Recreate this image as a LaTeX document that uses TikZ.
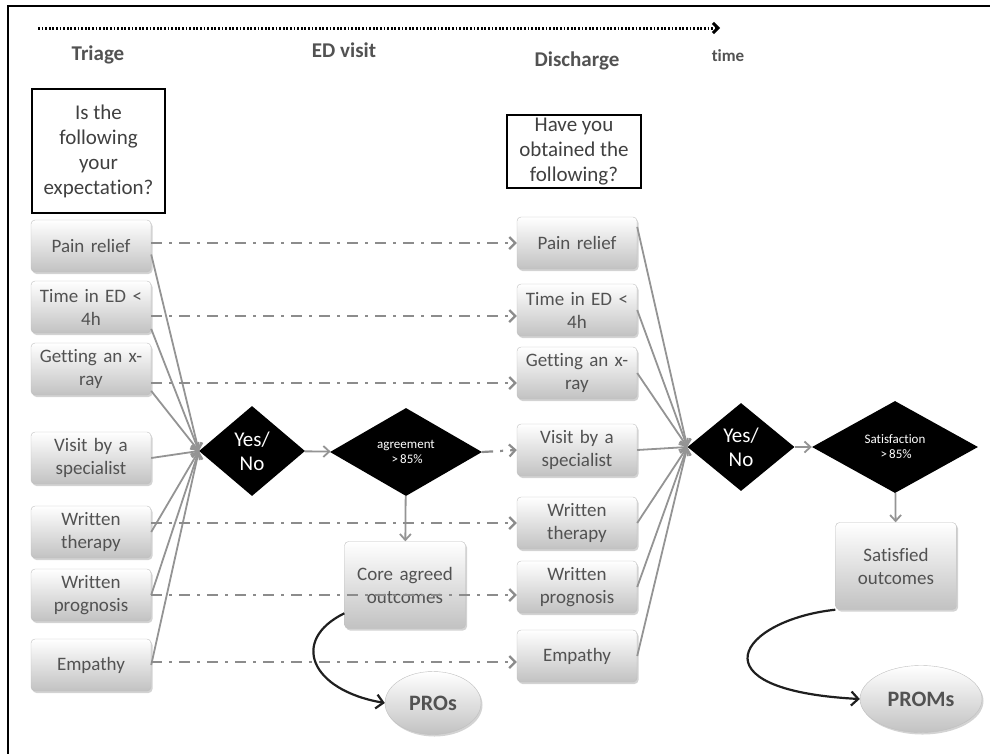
\documentclass[tikz,border=0pt]{standalone}
\usepackage{fontspec}
\setmainfont{Carlito}[Ligatures=NoCommon]
\usetikzlibrary{shapes.geometric,arrows.meta,shadows}

\begin{document}
\begin{tikzpicture}[
  x=1pt, y=-1pt,
  font=\fontsize{19}{23}\selectfont,
  >={Straight Barb[length=6pt,width=11pt]},
  item/.style={rectangle, rounded corners=4pt, draw=black!25, top color=white, bottom color=black!24,
               text=black!68, minimum width=120pt, minimum height=52pt, text width=116pt,
               align=center, inner sep=1pt,
               drop shadow={shadow xshift=1.5pt, shadow yshift=-2pt, opacity=0.35}},
  result/.style={item, minimum width=121pt, minimum height=87pt},
  question/.style={rectangle, draw=black, line width=1.2pt, text=black!75, align=center,
                   font=\fontsize{21}{25}\selectfont},
  head/.style={text=black!68, font=\fontsize{21}{24}\selectfont\bfseries},
  gate/.style={diamond, fill=black, text=white, align=center, inner sep=0pt},
  pro/.style={ellipse, draw=black!25, top color=white, bottom color=black!24, text=black!68,
              font=\fontsize{22}{26}\selectfont\bfseries,
              drop shadow={shadow xshift=1.5pt, shadow yshift=-2pt, opacity=0.35}},
  feed/.style={->, draw=black!42, line width=1.8pt},
  skip/.style={->, draw=black!45, line width=2.2pt, dash pattern=on 11pt off 7pt on 3pt off 7pt,
               >={Straight Barb[length=6pt,width=12pt]}},
  outcurve/.style={->, draw=black!88, line width=2.2pt, >={Straight Barb[length=7pt,width=14pt]}},
]
\useasboundingbox (0,0) rectangle (990,753);
\draw[line width=1.5pt] (8,6) rectangle (1000,760);

% time axis
\coordinate (t0) at (38,28);
\coordinate (t1) at (720,28);
\draw[->, line width=3pt, dash pattern=on 1.8pt off 1.8pt, >={Straight Barb[length=5pt,width=10pt]}] (t0) -- (t1);
\node[head] (triage) at (98,55) {Triage};
\node[head] (visit) at (344,50) {ED visit};
\node[head] (disch) at (577,61) {Discharge};
\node[head, font=\fontsize{17}{20}\selectfont\bfseries] (time) at (728,56) {time};

% questions
\node[question, minimum width=133pt, minimum height=124pt] (qin) at (98.5,151) {Is the\\following\\your\\expectation?};
\node[question, minimum width=134pt, minimum height=73pt, inner sep=1pt] (qout) at (574,151.5) {Have you\\obtained the\\following?};

% triage column
\node[item] (lpain)    at (91,246) {Pain relief};
\node[item] (ltime)    at (91,307) {Time in ED <\\4h};
\node[item] (lxray)    at (91,369) {Getting an x-\\ray};
\node[item] (lvisit)   at (91,458) {Visit by a\\specialist};
\node[item] (ltherapy) at (91,532) {Written\\therapy};
\node[item] (lprog)    at (91,595) {Written\\prognosis};
\node[item] (lempathy) at (91,665) {Empathy};

% discharge column
\node[item] (rpain)    at (577,243) {Pain relief};
\node[item] (rtime)    at (577,310) {Time in ED <\\4h};
\node[item] (rxray)    at (577,373) {Getting an x-\\ray};
\node[item] (rvisit)   at (577,450) {Visit by a\\specialist};
\node[item] (rtherapy) at (577,523) {Written\\therapy};
\node[item] (rprog)    at (577,587) {Written\\prognosis};
\node[item] (rempathy) at (577,656) {Empathy};

% decisions
\node[gate, minimum width=106pt, minimum height=90pt, font=\fontsize{21}{24}\selectfont] (yn1) at (252,451) {Yes/\\No};
\node[gate, minimum width=152pt, minimum height=88pt, font=\fontsize{13}{16}\selectfont] (agree) at (406,452) {agreement\\[-1pt]\,{>}\,85\%};
\node[gate, minimum width=107pt, minimum height=88pt, font=\fontsize{21}{24}\selectfont] (yn2) at (741,447) {Yes/\\No};
\node[gate, minimum width=166pt, minimum height=92pt, font=\fontsize{13}{16}\selectfont] (satis) at (895,447) {Satisfaction\\[-1pt]\,{>}\,85\%};

% outcomes
\node[result] (core) at (405,585) {Core agreed\\outcomes};
\node[result] (satd) at (896,566) {Satisfied\\outcomes};
\node[pro, minimum width=96pt, minimum height=63pt] (pros) at (433,703) {PROs};
\node[pro, minimum width=122pt, minimum height=67pt] (proms) at (921,699) {PROMs};

% expectations into first decision
\draw[feed] (lpain.-8) -- (yn1.west);
\draw[feed] (ltime.-20) -- (yn1.west);
\draw[feed] (lxray.-20) -- (yn1.west);
\draw[feed] (lvisit.east) -- (yn1.west);
\draw[feed] (ltherapy.east) -- (yn1.west);
\draw[feed] (lprog.east) -- (yn1.west);
\draw[feed] (lempathy.east) -- (yn1.west);
\draw[feed] (yn1) -- (agree);
\draw[feed] (agree) -- (core);

% triage -> discharge
\draw[skip] (rpain.west -| lpain.east) -- (rpain.west);
\draw[skip] ([yshift=-6pt]rtime.west -| ltime.east) -- ([yshift=-6pt]rtime.west);
\draw[skip] ([yshift=-10pt]rxray.west -| lxray.east) -- ([yshift=-10pt]rxray.west);
\draw[skip] (agree.east) -- (rvisit.west);
\draw[skip] (rtherapy.west -| ltherapy.east) -- (rtherapy.west);
\draw[skip] ([yshift=-8pt]rprog.west -| lprog.east) -- ([yshift=-8pt]rprog.west);
\draw[skip] ([yshift=-6pt]rempathy.west -| lempathy.east) -- ([yshift=-6pt]rempathy.west);

% obtained into second decision
\draw[feed] (rpain.15) -- (yn2.west);
\draw[feed] (rtime.east) -- (yn2.west);
\draw[feed] (rxray.east) -- (yn2.west);
\draw[feed] (rvisit.east) -- (yn2.west);
\draw[feed] (rtherapy.east) -- (yn2.west);
\draw[feed] (rprog.east) -- (yn2.west);
\draw[feed] (rempathy.east) -- (yn2.west);
\draw[feed] (yn2) -- (satis);
\draw[feed] (satis) -- (satd);

% measured outcomes
\draw[outcurve] (core.205) .. controls (290,640) and (310,690) .. (pros.west);
\draw[outcurve] (satd.south west) .. controls (740,620) and (690,690) .. (proms.west);

\end{tikzpicture}
\end{document}
